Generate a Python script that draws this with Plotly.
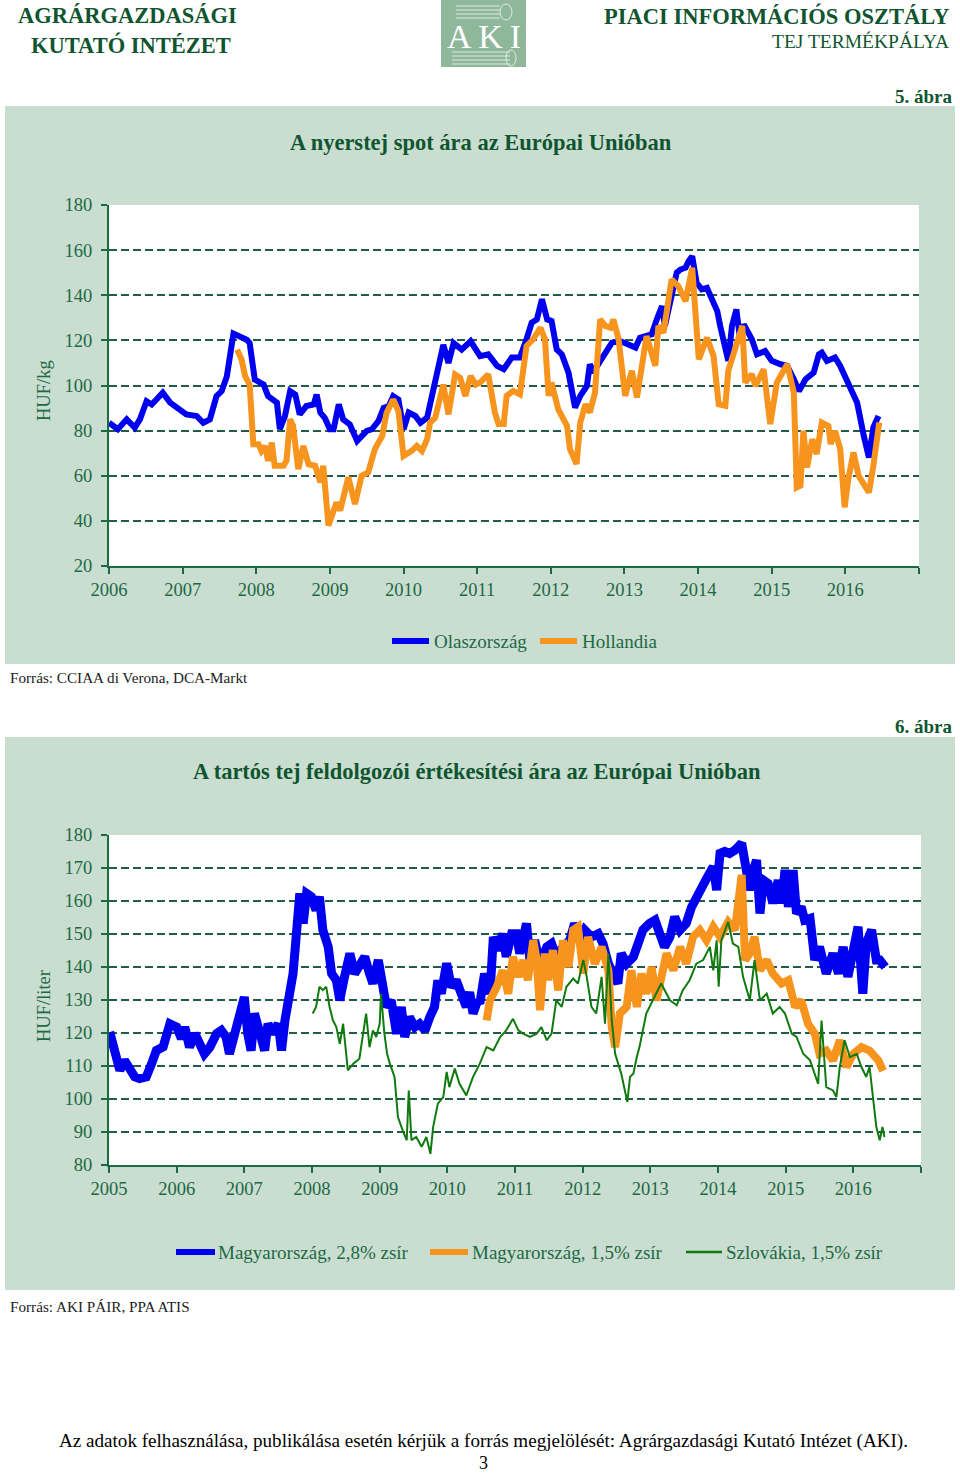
import plotly.graph_objects as go

W, H = 960, 1476
SERIF = "Liberation Serif, Times New Roman, serif"
GREEN = "#1C6A43"
DKGREEN = "#0F5530"
GRID = "#235C44"
PANEL = "#CADDD1"
BLUE = "#0000F0"
ORANGE = "#F7941D"
SKGREEN = "#107A10"

# ---------------- Chart 1 data: raw milk spot price (HUF/kg) ----------------
it_x = [2006.00, 2006.12, 2006.24, 2006.35, 2006.42, 2006.51, 2006.58, 2006.64, 2006.73, 2006.83,
        2006.96, 2007.05, 2007.19, 2007.28, 2007.37, 2007.46, 2007.53, 2007.60, 2007.69, 2007.76,
        2007.87, 2007.91, 2007.98, 2008.10, 2008.16, 2008.28, 2008.32, 2008.39, 2008.46, 2008.53,
        2008.59, 2008.68, 2008.78, 2008.82, 2008.87, 2008.93, 2009.00, 2009.05, 2009.12, 2009.18,
        2009.27, 2009.37, 2009.43, 2009.50, 2009.57, 2009.66, 2009.73, 2009.80, 2009.86, 2009.93,
        2010.00, 2010.07, 2010.16, 2010.23, 2010.32, 2010.39, 2010.45, 2010.54, 2010.61, 2010.68,
        2010.79, 2010.91, 2011.04, 2011.15, 2011.27, 2011.36, 2011.47, 2011.58, 2011.67, 2011.74,
        2011.81, 2011.88, 2011.95, 2012.01, 2012.08, 2012.15, 2012.24, 2012.33, 2012.40, 2012.49,
        2012.53, 2012.58, 2012.63, 2012.74, 2012.83, 2012.94, 2013.06, 2013.15, 2013.21, 2013.28,
        2013.37, 2013.44, 2013.51, 2013.55, 2013.62, 2013.71, 2013.76, 2013.83, 2013.87, 2013.92,
        2013.98, 2014.05, 2014.12, 2014.19, 2014.26, 2014.30, 2014.37, 2014.41, 2014.46, 2014.52,
        2014.57, 2014.62, 2014.73, 2014.80, 2014.91, 2015.00, 2015.12, 2015.21, 2015.30, 2015.37,
        2015.46, 2015.57, 2015.64, 2015.68, 2015.75, 2015.86, 2015.93, 2016.02, 2016.16, 2016.25,
        2016.32, 2016.38, 2016.45]
it_y = [83.5, 80.6, 85.0, 81.3, 85.0, 93.0, 91.6, 94.0, 96.8, 92.4,
        89.4, 87.2, 86.5, 83.5, 85.0, 95.3, 97.5, 104.0, 123.0, 121.8,
        120.3, 118.8, 102.6, 100.4, 95.3, 92.4, 80.6, 86.5, 97.5, 96.0,
        87.2, 90.9, 91.6, 96.0, 88.0, 85.7, 80.6, 80.6, 91.6, 85.0,
        82.8, 75.4, 77.6, 79.9, 80.6, 84.3, 90.1, 90.9, 95.3, 93.8,
        80.6, 88.0, 86.5, 83.5, 85.7, 96.8, 105.6, 118.0, 110.0, 118.8,
        115.9, 119.6, 113.0, 113.8, 108.7, 107.2, 112.4, 112.4, 120.5, 127.8,
        129.3, 138.2, 129.3, 128.6, 116.0, 113.8, 105.7, 90.2, 95.4, 99.8,
        109.4, 105.7, 108.7, 114.6, 119.0, 119.7, 118.3, 116.8, 121.2, 121.9,
        122.7, 129.3, 135.2, 126.4, 138.2, 150.0, 151.4, 152.2, 155.1, 157.3,
        145.5, 142.6, 143.3, 138.2, 133.0, 126.4, 116.0, 110.9, 126.4, 133.7,
        120.5, 127.1, 120.5, 113.8, 115.3, 110.9, 109.4, 108.7, 102.8, 97.6,
        102.8, 105.7, 113.8, 114.6, 110.9, 112.4, 108.7, 102.8, 92.4, 77.7,
        68.1, 81.4, 86.5]

nl_x = [2007.74, 2007.80, 2007.85, 2007.91, 2007.96, 2008.03, 2008.07, 2008.12, 2008.16, 2008.21,
        2008.25, 2008.37, 2008.41, 2008.46, 2008.50, 2008.57, 2008.64, 2008.71, 2008.80, 2008.87,
        2008.91, 2008.98, 2009.09, 2009.14, 2009.25, 2009.34, 2009.43, 2009.52, 2009.61, 2009.71,
        2009.77, 2009.86, 2009.93, 2010.00, 2010.11, 2010.18, 2010.25, 2010.32, 2010.36, 2010.43,
        2010.54, 2010.61, 2010.70, 2010.77, 2010.84, 2010.91, 2010.98, 2011.04, 2011.15, 2011.24,
        2011.29, 2011.36, 2011.40, 2011.49, 2011.58, 2011.67, 2011.76, 2011.86, 2011.92, 2011.97,
        2012.01, 2012.10, 2012.22, 2012.26, 2012.35, 2012.40, 2012.47, 2012.53, 2012.60, 2012.67,
        2012.74, 2012.81, 2012.85, 2012.92, 2013.01, 2013.10, 2013.17, 2013.30, 2013.42, 2013.46,
        2013.53, 2013.64, 2013.73, 2013.83, 2013.92, 2014.01, 2014.12, 2014.21, 2014.28, 2014.37,
        2014.41, 2014.53, 2014.60, 2014.64, 2014.73, 2014.78, 2014.89, 2014.98, 2015.07, 2015.21,
        2015.30, 2015.34, 2015.39, 2015.43, 2015.48, 2015.55, 2015.61, 2015.68, 2015.77, 2015.80,
        2015.86, 2015.93, 2015.99, 2016.04, 2016.11, 2016.18, 2016.25, 2016.32, 2016.38, 2016.46]
nl_y = [115.9, 111.5, 104.0, 100.4, 74.0, 74.0, 71.0, 73.2, 66.6, 74.7,
        64.4, 64.4, 66.6, 85.0, 82.1, 62.9, 73.2, 65.1, 64.4, 57.1,
        64.4, 37.9, 48.2, 44.6, 59.3, 47.5, 60.0, 61.5, 71.8, 77.6,
        87.9, 93.8, 88.7, 68.8, 71.0, 73.2, 71.0, 76.2, 83.5, 85.7,
        100.4, 87.2, 104.9, 103.4, 95.3, 104.2, 100.4, 101.3, 105.0, 88.0,
        82.9, 82.9, 95.4, 97.6, 96.1, 117.5, 120.5, 125.6, 120.5, 95.4,
        101.3, 89.5, 82.1, 71.8, 65.2, 83.6, 91.7, 88.0, 96.9, 129.3,
        126.4, 125.6, 129.3, 120.5, 95.4, 106.5, 94.7, 121.9, 108.7, 126.4,
        123.4, 147.0, 144.1, 137.4, 152.2, 111.6, 121.2, 113.1, 91.7, 91.0,
        106.5, 120.5, 126.4, 101.3, 105.0, 99.8, 107.2, 82.9, 101.3, 109.4,
        96.9, 54.8, 55.6, 79.9, 63.7, 76.2, 69.6, 83.6, 82.1, 74.0,
        79.9, 71.8, 46.0, 58.5, 70.3, 60.0, 55.6, 52.6, 64.4, 83.6]

# ---------------- Chart 2 data: UHT milk processor price (HUF/liter) ----------------
hu28_x = [2005.01, 2005.08, 2005.16, 2005.23, 2005.31, 2005.38, 2005.45, 2005.55, 2005.63, 2005.70,
          2005.80, 2005.85, 2005.90, 2006.00, 2006.07, 2006.12, 2006.19, 2006.27, 2006.34, 2006.41,
          2006.49, 2006.59, 2006.66, 2006.73, 2006.78, 2006.86, 2006.93, 2007.00, 2007.05, 2007.10,
          2007.15, 2007.23, 2007.30, 2007.35, 2007.42, 2007.50, 2007.55, 2007.60, 2007.67, 2007.72,
          2007.77, 2007.82, 2007.87, 2007.92, 2007.99, 2008.06, 2008.11, 2008.16, 2008.24, 2008.29,
          2008.36, 2008.41, 2008.48, 2008.56, 2008.63, 2008.70, 2008.78, 2008.85, 2008.90, 2008.98,
          2009.05, 2009.10, 2009.17, 2009.25, 2009.32, 2009.37, 2009.44, 2009.52, 2009.59, 2009.67,
          2009.74, 2009.81, 2009.86, 2009.91, 2009.99, 2010.06, 2010.13, 2010.21, 2010.28, 2010.33,
          2010.38, 2010.45, 2010.48, 2010.55, 2010.63, 2010.68, 2010.75, 2010.82, 2010.87, 2010.95,
          2011.02, 2011.07, 2011.17, 2011.22, 2011.29, 2011.37, 2011.47, 2011.54, 2011.61, 2011.71,
          2011.81, 2011.88, 2011.96, 2012.03, 2012.13, 2012.23, 2012.30, 2012.38, 2012.45, 2012.52,
          2012.57, 2012.65, 2012.75, 2012.82, 2012.89, 2012.99, 2013.07, 2013.14, 2013.21, 2013.29,
          2013.36, 2013.44, 2013.53, 2013.61, 2013.68, 2013.76, 2013.83, 2013.93, 2013.98, 2014.03,
          2014.10, 2014.17, 2014.25, 2014.35, 2014.40, 2014.47, 2014.52, 2014.57, 2014.62, 2014.67,
          2014.74, 2014.81, 2014.89, 2014.94, 2014.99, 2015.04, 2015.11, 2015.16, 2015.23, 2015.28,
          2015.36, 2015.43, 2015.50, 2015.60, 2015.70, 2015.78, 2015.85, 2015.92, 2016.00, 2016.07,
          2016.14, 2016.19, 2016.27, 2016.34, 2016.39, 2016.47]
hu28_y = [120.3, 114.7, 108.7, 111.7, 108.7, 106.7, 106.2, 106.7, 110.7, 114.7,
          115.8, 119.8, 122.8, 121.8, 118.3, 121.8, 115.7, 119.8, 116.7, 113.7,
          115.7, 119.8, 120.8, 118.8, 113.7, 120.8, 126.9, 130.9, 119.8, 114.7,
          125.9, 119.8, 114.7, 122.8, 119.8, 122.8, 114.7, 123.8, 131.9, 138.0,
          150.1, 162.3, 153.2, 162.3, 161.3, 157.2, 161.3, 151.2, 146.1, 138.0,
          136.0, 129.9, 137.0, 144.1, 138.0, 140.0, 143.1, 138.0, 135.0, 142.1,
          133.9, 127.9, 129.9, 119.8, 127.9, 118.8, 124.8, 121.8, 122.8, 120.8,
          124.8, 127.9, 136.0, 131.9, 141.1, 133.9, 136.0, 130.9, 127.9, 132.4,
          125.9, 129.9, 128.9, 138.0, 131.9, 149.1, 145.1, 150.1, 143.1, 150.1,
          150.1, 144.1, 153.2, 142.1, 148.1, 141.0, 146.1, 147.1, 143.1, 146.1,
          148.1, 153.2, 148.1, 151.2, 149.1, 150.1, 147.1, 141.0, 138.0, 135.0,
          144.1, 141.0, 143.1, 147.1, 151.2, 153.2, 154.2, 150.1, 146.1, 149.1,
          155.2, 151.2, 153.2, 158.2, 161.3, 165.3, 166.8, 170.4, 163.3, 174.4,
          175.0, 174.4, 175.4, 177.5, 169.4, 163.3, 169.4, 172.4, 156.2, 166.3,
          165.3, 159.3, 166.3, 159.3, 169.4, 158.2, 169.4, 156.2, 158.2, 154.2,
          154.7, 142.1, 146.1, 138.0, 144.1, 138.0, 146.1, 137.0, 145.1, 152.2,
          131.9, 147.1, 151.2, 142.1, 142.1, 140.0]

hu15_x = [2010.58, 2010.63, 2010.73, 2010.82, 2010.90, 2010.97, 2011.05, 2011.12, 2011.19, 2011.27,
          2011.32, 2011.37, 2011.44, 2011.49, 2011.56, 2011.64, 2011.71, 2011.79, 2011.86, 2011.93,
          2012.01, 2012.08, 2012.18, 2012.28, 2012.38, 2012.43, 2012.48, 2012.55, 2012.65, 2012.72,
          2012.80, 2012.87, 2012.94, 2013.02, 2013.09, 2013.16, 2013.24, 2013.34, 2013.44, 2013.53,
          2013.63, 2013.73, 2013.83, 2013.93, 2014.03, 2014.15, 2014.25, 2014.35, 2014.40, 2014.47,
          2014.54, 2014.62, 2014.72, 2014.81, 2014.94, 2015.04, 2015.14, 2015.23, 2015.33, 2015.43,
          2015.50, 2015.60, 2015.70, 2015.80, 2015.90, 2016.00, 2016.12, 2016.24, 2016.37, 2016.44]
hu15_y = [123.8, 129.9, 134.0, 139.0, 131.9, 143.1, 137.0, 142.1, 136.0, 148.1,
          142.1, 126.9, 144.1, 136.0, 145.1, 132.9, 148.1, 140.0, 151.2, 152.2,
          138.0, 149.1, 141.0, 146.1, 139.0, 121.8, 115.7, 125.9, 127.9, 139.0,
          127.9, 138.0, 131.9, 140.0, 129.9, 137.0, 144.1, 139.0, 146.1, 141.0,
          149.1, 151.2, 148.1, 152.2, 149.1, 153.7, 151.2, 167.9, 142.1, 144.1,
          149.1, 139.0, 142.1, 138.0, 135.0, 136.0, 127.9, 129.9, 122.8, 119.8,
          113.7, 114.7, 111.7, 117.8, 109.7, 113.7, 115.7, 114.7, 111.7, 108.5]

sk_x = [2008.01, 2008.06, 2008.11, 2008.16, 2008.21, 2008.26, 2008.31, 2008.36, 2008.41, 2008.46,
        2008.53, 2008.61, 2008.70, 2008.80, 2008.85, 2008.90, 2008.95, 2009.00, 2009.02, 2009.07,
        2009.11, 2009.15, 2009.22, 2009.27, 2009.34, 2009.40, 2009.43, 2009.47, 2009.54, 2009.62,
        2009.69, 2009.75, 2009.79, 2009.86, 2009.94, 2009.99, 2010.03, 2010.11, 2010.18, 2010.28,
        2010.38, 2010.48, 2010.58, 2010.68, 2010.78, 2010.87, 2010.97, 2011.05, 2011.12, 2011.22,
        2011.32, 2011.39, 2011.47, 2011.54, 2011.61, 2011.69, 2011.76, 2011.86, 2011.93, 2012.01,
        2012.06, 2012.13, 2012.20, 2012.28, 2012.33, 2012.38, 2012.43, 2012.48, 2012.57, 2012.62,
        2012.66, 2012.70, 2012.75, 2012.80, 2012.84, 2012.94, 2013.04, 2013.16, 2013.29, 2013.39,
        2013.48, 2013.58, 2013.68, 2013.78, 2013.88, 2013.93, 2013.98, 2014.01, 2014.05, 2014.15,
        2014.22, 2014.30, 2014.37, 2014.47, 2014.54, 2014.62, 2014.72, 2014.81, 2014.91, 2014.99,
        2015.09, 2015.16, 2015.26, 2015.36, 2015.41, 2015.48, 2015.53, 2015.60, 2015.70, 2015.75,
        2015.80, 2015.87, 2015.95, 2016.05, 2016.12, 2016.19, 2016.24, 2016.29, 2016.34, 2016.39,
        2016.43, 2016.46]
sk_y = [125.9, 127.9, 134.0, 133.0, 134.0, 127.9, 123.8, 121.8, 116.7, 122.8,
        108.7, 110.7, 112.2, 125.9, 115.7, 120.8, 118.8, 122.8, 131.9, 119.8,
        113.7, 110.7, 106.7, 94.5, 90.5, 87.5, 102.6, 87.5, 88.5, 85.5,
        88.5, 83.4, 91.5, 98.6, 100.6, 108.2, 103.6, 109.2, 104.6, 101.1,
        106.7, 110.7, 115.7, 114.7, 118.8, 120.8, 124.3, 120.8, 119.8, 118.8,
        119.8, 121.8, 117.8, 119.8, 129.9, 127.9, 134.0, 136.5, 135.0, 142.1,
        137.0, 127.9, 125.9, 137.0, 122.8, 144.1, 123.8, 113.7, 107.7, 102.6,
        99.1, 106.7, 107.7, 112.7, 115.8, 125.9, 129.9, 135.0, 129.9, 128.4,
        133.0, 136.0, 141.0, 142.1, 146.1, 139.0, 148.1, 134.0, 148.1, 153.7,
        147.1, 146.1, 137.0, 129.9, 142.1, 129.9, 131.9, 125.9, 127.9, 125.9,
        119.8, 118.8, 113.7, 111.7, 108.7, 104.6, 123.8, 103.6, 102.6, 100.6,
        109.7, 117.8, 112.7, 113.7, 109.7, 106.7, 109.7, 99.6, 91.5, 87.5,
        91.5, 88.5]

years1 = list(range(2006, 2018))
years2 = list(range(2005, 2018))
labels1 = [str(y) if y < 2017 else "" for y in years1]
labels2 = [str(y) if y < 2017 else "" for y in years2]


def px(x):
    return x / W


def py(y):
    return 1 - y / H


fig = go.Figure()

fig.add_trace(go.Scatter(x=it_x, y=it_y, mode="lines", name="Olaszország",
                         line=dict(color=BLUE, width=6), xaxis="x", yaxis="y"))
fig.add_trace(go.Scatter(x=nl_x, y=nl_y, mode="lines", name="Hollandia",
                         line=dict(color=ORANGE, width=6), xaxis="x", yaxis="y"))
fig.add_trace(go.Scatter(x=hu28_x, y=hu28_y, mode="lines", name="Magyarország, 2,8% zsír",
                         line=dict(color=BLUE, width=9), xaxis="x2", yaxis="y2"))
fig.add_trace(go.Scatter(x=hu15_x, y=hu15_y, mode="lines", name="Magyarország, 1,5% zsír",
                         line=dict(color=ORANGE, width=8), xaxis="x2", yaxis="y2"))
fig.add_trace(go.Scatter(x=sk_x, y=sk_y, mode="lines", name="Szlovákia, 1,5% zsír",
                         line=dict(color=SKGREEN, width=2), xaxis="x2", yaxis="y2"))

axis_common = dict(showline=True, linecolor=GREEN, linewidth=2, ticks="outside",
                   ticklen=6, tickwidth=2, tickcolor=GREEN, zeroline=False, automargin=False,
                   tickfont=dict(family=SERIF, size=18.5, color=GREEN))
grid_common = dict(showgrid=True, gridcolor=GRID, gridwidth=2, griddash="8px,4px")

fig.update_layout(
    width=W, height=H, margin=dict(l=0, r=0, t=0, b=0, pad=0, autoexpand=False),
    paper_bgcolor="white", plot_bgcolor="rgba(0,0,0,0)",
    showlegend=False,
    xaxis=dict(domain=[px(109), px(919)], range=[2006, 2017], tickmode="array",
               tickvals=years1, ticktext=labels1, showgrid=False, anchor="y",
               ticklabelstandoff=0, **axis_common),
    yaxis=dict(domain=[py(566), py(205)], range=[20, 180], tickmode="linear", tick0=20,
               dtick=20, anchor="x", ticklabelstandoff=5, **grid_common, **axis_common),
    xaxis2=dict(domain=[px(109), px(921)], range=[2005, 2017], tickmode="array",
                tickvals=years2, ticktext=labels2, showgrid=False, anchor="y2",
                ticklabelstandoff=0, **axis_common),
    yaxis2=dict(domain=[py(1165), py(835)], range=[80, 180], tickmode="linear", tick0=80,
                dtick=10, anchor="x2", ticklabelstandoff=5, **grid_common, **axis_common),
)

shapes = []


def rect(x0, y0, x1, y1, fill, line=None):
    shapes.append(dict(type="rect", xref="paper", yref="paper", layer="below",
                       x0=px(x0), x1=px(x1), y0=py(y1), y1=py(y0), fillcolor=fill,
                       line=dict(width=0) if line is None else line))


def seg(x0, y0, x1, y1, color, width, layer="above"):
    shapes.append(dict(type="line", xref="paper", yref="paper", layer=layer,
                       x0=px(x0), x1=px(x1), y0=py(y0), y1=py(y1),
                       line=dict(color=color, width=width)))


# panels and white plot areas
rect(5, 106, 955, 664, PANEL)
rect(109, 205, 919, 566, "white")
rect(5, 737, 955, 1290, PANEL)
rect(109, 835, 921, 1165, "white")

# logo
rect(441, 0, 526, 67, "#8FB89B")
for yy in (6, 10, 14, 18):
    seg(456, yy, 500, yy, "rgba(255,255,255,0.7)", 1)
shapes.append(dict(type="circle", xref="paper", yref="paper", layer="above",
                   x0=px(500), x1=px(512), y0=py(20), y1=py(4),
                   line=dict(color="rgba(255,255,255,0.7)", width=1)))
for yy in (52, 56, 60, 64):
    seg(452, yy, 510, yy, "rgba(255,255,255,0.7)", 1)
shapes.append(dict(type="circle", xref="paper", yref="paper", layer="above",
                   x0=px(506), x1=px(516), y0=py(66), y1=py(50),
                   line=dict(color="rgba(255,255,255,0.7)", width=1)))

# legend samples
seg(392, 641, 429, 641, BLUE, 6)
seg(540, 641, 577, 641, ORANGE, 6)
seg(176, 1252, 215, 1252, BLUE, 6)
seg(430, 1252, 468, 1252, ORANGE, 6)
seg(686, 1252, 722, 1252, SKGREEN, 2.5)

fig.update_layout(shapes=shapes)

ann = []


def text(x, y, s, size, color, xanchor="left", bold=False, angle=0, yanchor="middle"):
    ann.append(dict(xref="paper", yref="paper", x=px(x), y=py(y), text=(f"<b>{s}</b>" if bold else s),
                    showarrow=False, xanchor=xanchor, yanchor=yanchor, textangle=angle,
                    font=dict(family=SERIF, size=size, color=color)))


# header
text(127, 16, "AGRÁRGAZDASÁGI", 22.5, DKGREEN, "center", True)
text(131, 45, "KUTATÓ INTÉZET", 22.5, DKGREEN, "center", True)
text(951, 16, "PIACI INFORMÁCIÓS OSZTÁLY", 22.5, DKGREEN, "right", True)
text(951, 42, "TEJ TERMÉKPÁLYA", 19.5, DKGREEN, "right")
text(484, 36, "A\u2009K\u2009I", 34, "white", "center")

# chart 1 texts
text(955, 96, "5. ábra", 19, DKGREEN, "right", True)
text(481, 142, "A nyerstej spot ára az Európai Unióban", 22.5, DKGREEN, "center", True)
text(44, 391, "HUF/kg", 18.5, GREEN, "center", angle=-90)
text(432, 641, "Olaszország", 19, GREEN)
text(580, 641, "Hollandia", 19, GREEN)
text(8, 677, "Forrás: CCIAA di Verona, DCA-Markt", 15.2, "#222222")

# chart 2 texts
text(955, 726, "6. ábra", 19, DKGREEN, "right", True)
text(477, 771, "A tartós tej feldolgozói értékesítési ára az Európai Unióban", 22.5, DKGREEN, "center", True)
text(44, 1006, "HUF/liter", 18.5, GREEN, "center", angle=-90)
text(216, 1252, "Magyarország, 2,8% zsír", 19, GREEN)
text(470, 1252, "Magyarország, 1,5% zsír", 19, GREEN)
text(724, 1252, "Szlovákia, 1,5% zsír", 19, GREEN)
text(8, 1306, "Forrás: AKI PÁIR, PPA ATIS", 15.2, "#222222")

# footer
text(483, 1441, "Az adatok felhasználása, publikálása esetén kérjük a forrás megjelölését: "
     "Agrárgazdasági Kutató Intézet (AKI).", 19.1, "black", "center")
text(483, 1463, "3", 18, "black", "center")

fig.update_layout(annotations=ann)

fig.write_html("out.html",
               config={"displayModeBar": False},
               post_script="document.body.style.margin='0px';"
                           "document.body.style.overflow='hidden';")
